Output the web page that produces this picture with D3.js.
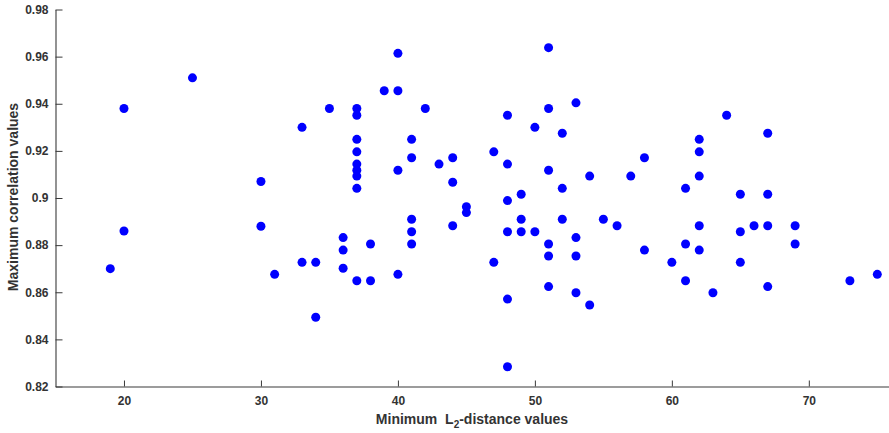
<!DOCTYPE html>
<html>
<head>
<meta charset="utf-8">
<script src="https://cdn.jsdelivr.net/npm/d3@7"></script>
<style>
  html, body { margin: 0; padding: 0; background: #fff; }
  svg { display: block; }
</style>
</head>
<body>
<svg id="chart" width="889" height="433"></svg>
<script>
// Minimum L2-distance values (x)
const distValues = [
  19,
  20, 20,
  25,
  30, 30,
  31,
  33, 33,
  34, 34,
  35,
  36, 36, 36,
  37, 37, 37, 37, 37, 37, 37, 37, 37,
  38, 38,
  39,
  40, 40, 40, 40,
  41, 41, 41, 41, 41,
  42,
  43,
  44, 44, 44,
  45, 45,
  47, 47,
  48, 48, 48, 48, 48, 48,
  49, 49, 49,
  50, 50,
  51, 51, 51, 51, 51, 51,
  52, 52, 52,
  53, 53, 53, 53,
  54, 54,
  55,
  56,
  57,
  58, 58,
  60,
  61, 61, 61,
  62, 62, 62, 62, 62,
  63,
  64,
  65, 65, 65,
  66,
  67, 67, 67, 67,
  69, 69,
  73,
  75
];
// Maximum correlation values (y)
const corrValues = [
  0.870,
  0.938, 0.886,
  0.951,
  0.907, 0.888,
  0.8676,
  0.930, 0.8727,
  0.8727, 0.8494,
  0.938,
  0.8832, 0.8779, 0.8702,
  0.938, 0.9351, 0.9249, 0.9196, 0.9144, 0.9118, 0.9093, 0.9041, 0.8649,
  0.8805, 0.8649,
  0.9455,
  0.9614, 0.9455, 0.9118, 0.8676,
  0.9249, 0.9171, 0.891, 0.8857, 0.8805,
  0.938,
  0.9144,
  0.9171, 0.9067, 0.8882,
  0.8963, 0.8938,
  0.9196, 0.8727,
  0.9351, 0.9144, 0.8989, 0.8857, 0.8571, 0.8284,
  0.9016, 0.891, 0.8857,
  0.930, 0.8857,
  0.9638, 0.938, 0.9118, 0.8805, 0.8754, 0.8624,
  0.9275, 0.9041, 0.891,
  0.9404, 0.8832, 0.8754, 0.8598,
  0.9093, 0.8546,
  0.891,
  0.8882,
  0.9093,
  0.9171, 0.8779,
  0.8727,
  0.9041, 0.8805, 0.8649,
  0.9249, 0.9196, 0.9093, 0.8882, 0.8779,
  0.8598,
  0.9351,
  0.9016, 0.8857, 0.8727,
  0.8882,
  0.9275, 0.9016, 0.8882, 0.8624,
  0.8882, 0.8805,
  0.8649,
  0.8676
];
const xTicks = [20, 30, 40, 50, 60, 70];
const xTickLabels = ["20", "30", "40", "50", "60", "70"];
const yTicks = [0.82, 0.84, 0.86, 0.88, 0.9, 0.92, 0.94, 0.96, 0.98];
const yTickLabels = ["0.82", "0.84", "0.86", "0.88", "0.9", "0.92", "0.94", "0.96", "0.98"];
const xLabelMain = "Minimum  L";
const xLabelSub = "2";
const xLabelRest = "-distance values";
const yLabel = "Maximum correlation values";

const points = distValues.map((d, i) => ({ x: d, y: corrValues[i] }));

const svg = d3.select("#chart");
const axisColor = "#3a3a3a";
const textColor = "#333333";
const font = "'Liberation Sans', Arial, sans-serif";

const x = d3.scaleLinear().domain([15, 76]).range([55.5, 891]);
const y = d3.scaleLinear().domain([0.82, 0.98]).range([386.5, 9.5]);

// X axis
const xAxis = d3.axisBottom(x)
  .tickValues(xTicks)
  .tickFormat((d, i) => xTickLabels[i])
  .tickSizeInner(-6)
  .tickSizeOuter(0)
  .tickPadding(10);
const gx = svg.append("g")
  .attr("transform", `translate(0,${y(0.82)})`)
  .call(xAxis);
gx.select(".domain").attr("stroke", axisColor).attr("stroke-width", 1.1);
gx.selectAll(".tick line").attr("stroke", axisColor);
gx.selectAll(".tick text")
  .attr("fill", textColor)
  .style("font-family", font)
  .style("font-size", "12px")
  .style("font-weight", "bold");

// Y axis
const yAxis = d3.axisLeft(y)
  .tickValues(yTicks)
  .tickFormat((d, i) => yTickLabels[i])
  .tickSizeInner(-7)
  .tickSizeOuter(0)
  .tickPadding(7);
const gy = svg.append("g")
  .attr("transform", `translate(${x(15)},0)`)
  .call(yAxis);
gy.select(".domain").attr("stroke", axisColor).attr("stroke-width", 1.1);
gy.selectAll(".tick line").attr("stroke", axisColor);
gy.selectAll(".tick text")
  .attr("fill", textColor)
  .style("font-family", font)
  .style("font-size", "12px")
  .style("font-weight", "bold");

// Points
svg.append("g")
  .selectAll("circle")
  .data(points)
  .join("circle")
  .attr("cx", d => x(d.x))
  .attr("cy", d => y(d.y))
  .attr("r", 4.5)
  .attr("fill", "#0000ff");

// X label
const xl = svg.append("text")
  .attr("x", 472)
  .attr("y", 424)
  .attr("text-anchor", "middle")
  .attr("fill", textColor)
  .style("font-family", font)
  .style("font-size", "14px")
  .style("font-weight", "bold")
  .style("white-space", "pre")
  .attr("xml:space", "preserve");
xl.append("tspan").text(xLabelMain);
xl.append("tspan").attr("dy", 4).style("font-size", "10px").text(xLabelSub);
xl.append("tspan").attr("dy", -4).text(xLabelRest);

// Y label
svg.append("text")
  .attr("transform", `translate(18,197) rotate(-90)`)
  .attr("text-anchor", "middle")
  .attr("fill", textColor)
  .style("font-family", font)
  .style("font-size", "14px")
  .style("font-weight", "bold")
  .text(yLabel);
</script>
</body>
</html>
